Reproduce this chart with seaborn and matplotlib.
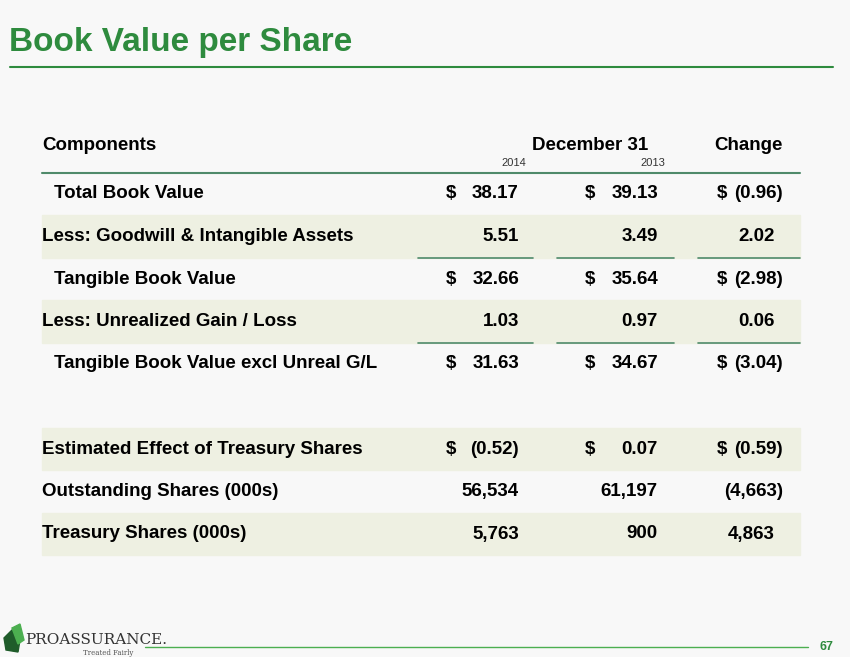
import matplotlib.pyplot as plt
import seaborn as sns
from matplotlib.patches import Rectangle, Polygon

sns.set_theme(style="white")
plt.rcParams['font.family'] = ['Liberation Sans', 'DejaVu Sans']
plt.rcParams['text.color'] = 'black'

labels = ["Total Book Value", "Less: Goodwill & Intangible Assets", "Tangible Book Value",
          "Less: Unrealized Gain / Loss", "Tangible Book Value excl Unreal G/L", "",
          "Estimated Effect of Treasury Shares", "Outstanding Shares (000s)", "Treasury Shares (000s)"]
indent = [True, False, True, False, True, False, False, False, False]
shaded = [False, True, False, True, False, False, True, False, True]
col2014 = ["38.17", "5.51", "32.66", "1.03", "31.63", "", "(0.52)", "56,534", "5,763"]
col2013 = ["39.13", "3.49", "35.64", "0.97", "34.67", "", "0.07", "61,197", "900"]
change = ["(0.96)", "2.02", "(2.98)", "0.06", "(3.04)", "", "(0.59)", "(4,663)", "4,863"]
dollar = [True, False, True, False, True, False, True, False, False]
underline = [False, True, False, True, False, False, False, False, False]

fig = plt.figure(figsize=(8.5, 6.57), dpi=100)
fig.patch.set_facecolor('#f8f8f8')
ax = fig.add_axes([0, 0, 1, 1])
ax.set_xlim(0, 850)
ax.set_ylim(657, 0)
ax.axis('off')

green = '#2e8b3e'
ax.text(9, 42, "Book Value per Share", color=green, fontsize=24, fontweight='bold', va='center')
ax.plot([10, 833], [67, 67], color=green, lw=1.5)

fs = 13.5
ax.text(42, 146, "Components", fontsize=fs, fontweight='bold', va='center')
ax.text(590, 146, "December 31", fontsize=fs, fontweight='bold', va='center', ha='center')
ax.text(783, 146, "Change", fontsize=fs, fontweight='bold', va='center', ha='right')
ax.text(514, 163, "2014", fontsize=8, va='center', ha='center', color='#333333')
ax.text(653, 163, "2013", fontsize=8, va='center', ha='center', color='#333333')
ax.plot([42, 800], [173, 173], color='#4f8a6a', lw=1.5)

rowh = 42.5
for i, lab in enumerate(labels):
    yc = 194 + i * rowh
    if shaded[i]:
        ax.add_patch(Rectangle((42, yc - rowh / 2), 758, rowh, color='#eef0e2', zorder=0))
    if not lab:
        continue
    ax.text(54 if indent[i] else 42, yc, lab, fontsize=fs, fontweight='bold', va='center')
    for val, dx, rx, pad in [(col2014[i], 446, 519, 0), (col2013[i], 585, 658, 0), (change[i], 717, 783, 8)]:
        r = rx if val.endswith(')') else rx - pad
        ax.text(r, yc, val, fontsize=fs, fontweight='bold', va='center', ha='right')
        if dollar[i]:
            ax.text(dx, yc, "$", fontsize=fs, fontweight='bold', va='center')
    if underline[i]:
        yl = yc + rowh / 2
        for a, b in [(418, 533), (557, 674), (698, 800)]:
            ax.plot([a, b], [yl, yl], color='#4f8a6a', lw=1.2)

# footer
ax.add_patch(Polygon([[4, 638], [14, 628], [20, 640], [18, 652], [6, 650]], color='#1f5c2a'))
ax.add_patch(Polygon([[12, 628], [20, 624], [24, 640], [18, 644]], color='#4caf50'))
ax.text(25, 640, "PROASSURANCE.", fontsize=11, family='serif', color='#333333', va='center')
ax.text(133, 653, "Treated Fairly", fontsize=5, family='serif', color='#555555', ha='right', va='center')
ax.plot([145, 808], [647, 647], color='#4caf50', lw=1)
ax.text(833, 647, "67", fontsize=9, fontweight='bold', color=green, ha='right', va='center')

fig.savefig('out.png', dpi=100, facecolor=fig.get_facecolor())
